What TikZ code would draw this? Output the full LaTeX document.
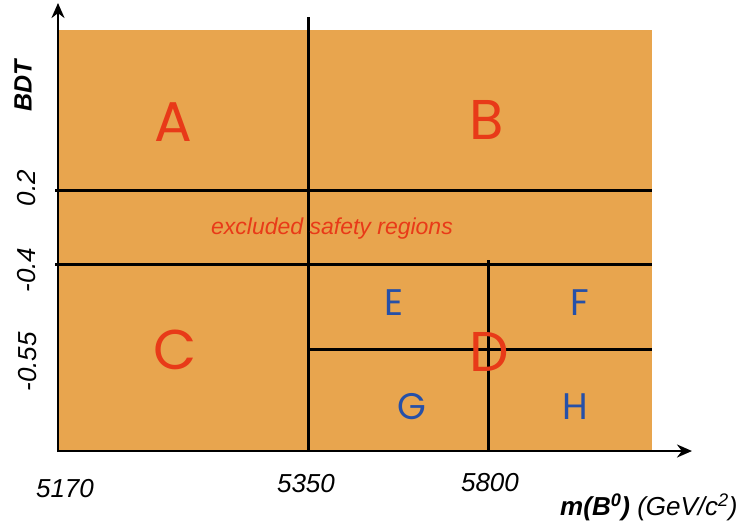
\documentclass[tikz,border=0pt]{standalone}
\usepackage{fontspec}
\setmainfont{Liberation Sans}
\newfontfamily\geofont{Poppins}
\usetikzlibrary{arrows.meta}
\definecolor{bgorange}{RGB}{232,165,78}
\definecolor{lblred}{RGB}{232,58,24}
\definecolor{lblblue}{RGB}{38,80,168}
\begin{document}
\begin{tikzpicture}[x=1pt,y=-1pt,
  bigregion/.style={font=\geofont\fontsize{56}{56}\selectfont,text=lblred},
  subregion/.style={font=\geofont\fontsize{37}{37}\selectfont,text=lblblue},
  ticklbl/.style={font=\itshape\fontsize{26}{26}\selectfont},
  cut/.style={line width=3pt}]
\useasboundingbox (0,0) rectangle (742,528);
\fill[bgorange] (58,30) rectangle (652,451);
% cuts in mass and BDT
\draw[cut] (308,17) -- (308,451);
\draw[cut] (55,190) -- (652,190);
\draw[cut] (55,264) -- (652,264);
\draw[cut] (488,260) -- (488,451);
\draw[cut] (308,349) -- (652,349);
% axes
\draw[line width=2.6pt,-{Stealth[length=15pt,width=13pt]}] (57,451) -- (692,451);
\draw[line width=2.6pt,-{Stealth[length=15pt,width=13pt]}] (58,452) -- (58,3);
% regions
\node[bigregion] (A) at (173,122) {A};
\node[bigregion] (B) at (487,120) {B};
\node[bigregion] (C) at (175,350) {C};
\node[bigregion] (D) at (489,352) {D};
\node[subregion] (E) at (394,303) {E};
\node[subregion] (F) at (580,303) {F};
\node[subregion] (G) at (412,407) {G};
\node[subregion] (H) at (575,407) {H};
\node[font=\itshape\fontsize{23}{23}\selectfont,text=lblred] (excl) at (332,229) {excluded safety regions};
% axis labels
\node[font=\bfseries\itshape\fontsize{25}{25}\selectfont,rotate=90] (ylbl) at (23,86) {BDT};
\node[ticklbl,rotate=90] (y02) at (27,188) {0.2};
\node[ticklbl,rotate=90] (y04) at (27,270) {-0.4};
\node[ticklbl,rotate=90] (y055) at (28,362) {-0.55};
\node[ticklbl] (x5170) at (65,489) {5170};
\node[ticklbl] (x5350) at (306,484) {5350};
\node[ticklbl] (x5800) at (490,483) {5800};
\node[font=\itshape\fontsize{26}{26}\selectfont,anchor=east] (xlbl) at (741,507) {{\bfseries m(B\textsuperscript{0})} (GeV/c\textsuperscript{2})};
\end{tikzpicture}
\end{document}
